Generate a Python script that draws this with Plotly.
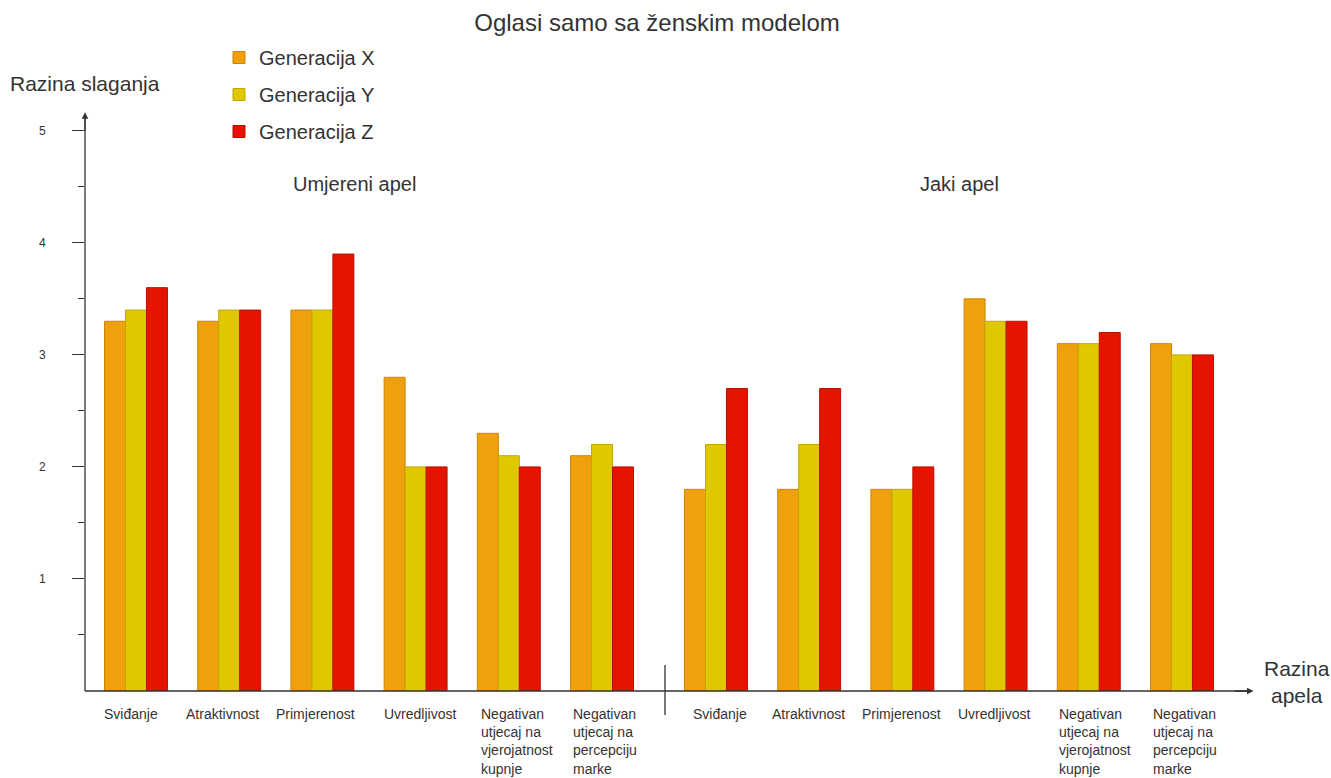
import plotly.graph_objects as go

title = "Oglasi samo sa ženskim modelom"
categories = ["Sviđanje", "Atraktivnost", "Primjerenost", "Uvredljivost",
              "Negativan<br>utjecaj na<br>vjerojatnost<br>kupnje",
              "Negativan<br>utjecaj na<br>percepciju<br>marke"]
panels = ["Umjereni apel", "Jaki apel"]
series = ["Generacija X", "Generacija Y", "Generacija Z"]

umjereni_x = [3.3, 3.3, 3.4, 2.8, 2.3, 2.1]
umjereni_y = [3.4, 3.4, 3.4, 2.0, 2.1, 2.2]
umjereni_z = [3.6, 3.4, 3.9, 2.0, 2.0, 2.0]

jaki_x = [1.8, 1.8, 1.8, 3.5, 3.1, 3.1]
jaki_y = [2.2, 2.2, 1.8, 3.3, 3.1, 3.0]
jaki_z = [2.7, 2.7, 2.0, 3.3, 3.2, 3.0]

y_tickvals = [1, 2, 3, 4, 5]
y_minor = [0.5, 1.5, 2.5, 3.5, 4.5]

# styling: small horizontal nudges of the category labels (pixels)
label_shift_left = [-5, -7, -7, 4, 8, 3]
label_shift_right = [4, -1, -1, -2, 6, 3]

fills = ["#F0A00C", "#E0C800", "#E51400"]
borders = ["#C8860A", "#C0A800", "#B81000"]
TXT = "#333333"
FONT = "Liberation Sans, Arial, sans-serif"

fig = go.Figure()
left = [umjereni_x, umjereni_y, umjereni_z]
right = [jaki_x, jaki_y, jaki_z]
for i, name in enumerate(series):
    fig.add_trace(go.Bar(x=categories, y=left[i], name=name, legendgroup=name,
                         marker=dict(color=fills[i], line=dict(color=borders[i], width=1)),
                         xaxis="x", yaxis="y"))
for i, name in enumerate(series):
    fig.add_trace(go.Bar(x=categories, y=right[i], name=name, legendgroup=name,
                         showlegend=False,
                         marker=dict(color=fills[i], line=dict(color=borders[i], width=1)),
                         xaxis="x2", yaxis="y"))

W, H = 1331, 778
ml, mr, mt, mb = 85, 81, 114, 87
pw = W - ml - mr
ph = H - mt - mb

def px2paper_x(px):
    return (px - ml) / pw

def px2paper_y(py):
    return (H - mb - py) / ph

fig.update_layout(
    width=W, height=H,
    margin=dict(l=ml, r=mr, t=mt, b=mb),
    paper_bgcolor="white", plot_bgcolor="white",
    barmode="group", bargap=0.325, bargroupgap=0,
    font=dict(family=FONT, color=TXT),
    title=dict(text=title, x=657 / W, xref="container", xanchor="center",
               y=1 - 23 / H, yanchor="middle", font=dict(size=24, color=TXT)),
    xaxis=dict(domain=[0, px2paper_x(649)], range=[-0.547, 5.504], showticklabels=False,
               showgrid=False, zeroline=False, showline=False, ticks=""),
    xaxis2=dict(domain=[px2paper_x(669), 1], range=[-0.504, 5.73], showticklabels=False,
                showgrid=False, zeroline=False, showline=False, ticks="", anchor="y"),
    yaxis=dict(range=[0, 5.15], tickvals=y_tickvals, showgrid=False, zeroline=False,
               showline=False, ticks="outside", ticklen=12, tickwidth=1, tickcolor=TXT,
               tickfont=dict(size=12, color=TXT), ticklabelstandoff=24,
               minor=dict(tickmode="array", tickvals=y_minor, ticks="outside", ticklen=6,
                          tickwidth=1, tickcolor=TXT)),
    legend=dict(x=px2paper_x(219), y=px2paper_y(38), xanchor="left", yanchor="top",
                font=dict(size=20, color=TXT), tracegroupgap=8, bgcolor="rgba(0,0,0,0)",
                itemwidth=30),
    showlegend=True,
)

# axes lines
fig.add_shape(type="line", xref="paper", yref="paper", x0=0, x1=1, y0=0, y1=0,
              line=dict(color=TXT, width=1.3))
fig.add_shape(type="line", xref="paper", yref="paper", x0=0, x1=0, y0=0, y1=1,
              line=dict(color=TXT, width=1.3))
# panel divider
fig.add_shape(type="line", xref="paper", yref="paper", x0=px2paper_x(665), x1=px2paper_x(665),
              y0=px2paper_y(715), y1=px2paper_y(665), line=dict(color=TXT, width=1.3))

# arrow heads
fig.add_annotation(x=1.003, y=0, xref="paper", yref="paper", ax=-20, ay=0, text="",
                   showarrow=True, arrowhead=2, arrowsize=1, arrowwidth=1.3, arrowcolor=TXT)
fig.add_annotation(x=0, y=1.003, xref="paper", yref="paper", ax=0, ay=20, text="",
                   showarrow=True, arrowhead=2, arrowsize=1, arrowwidth=1.3, arrowcolor=TXT)

# category labels
for xr, shifts in [("x", label_shift_left), ("x2", label_shift_right)]:
    for c, s in zip(categories, shifts):
        fig.add_annotation(x=c, y=0, xref=xr, yref="paper", yanchor="top", yshift=-13,
                           xanchor="center", xshift=s, align="left", text=c, showarrow=False,
                           font=dict(size=14, color=TXT))

# panel labels
for p, xpx in zip(panels, [354, 959]):
    fig.add_annotation(x=px2paper_x(xpx), y=px2paper_y(184), xref="paper", yref="paper",
                       xanchor="center", yanchor="middle",
                       text=p, showarrow=False, font=dict(size=20, color=TXT))

fig.add_annotation(x=px2paper_x(85), y=px2paper_y(83), xref="paper", yref="paper",
                   xanchor="center", yanchor="middle",
                   text="Razina slaganja", showarrow=False, font=dict(size=21, color=TXT))
fig.add_annotation(x=px2paper_x(1297), y=px2paper_y(682), xref="paper", yref="paper",
                   xanchor="center", yanchor="middle",
                   text="Razina<br>apela", showarrow=False, align="center",
                   font=dict(size=21, color=TXT))

fig.write_html("out.html", config={"displayModeBar": False},
               post_script="document.body.style.margin='0';")
